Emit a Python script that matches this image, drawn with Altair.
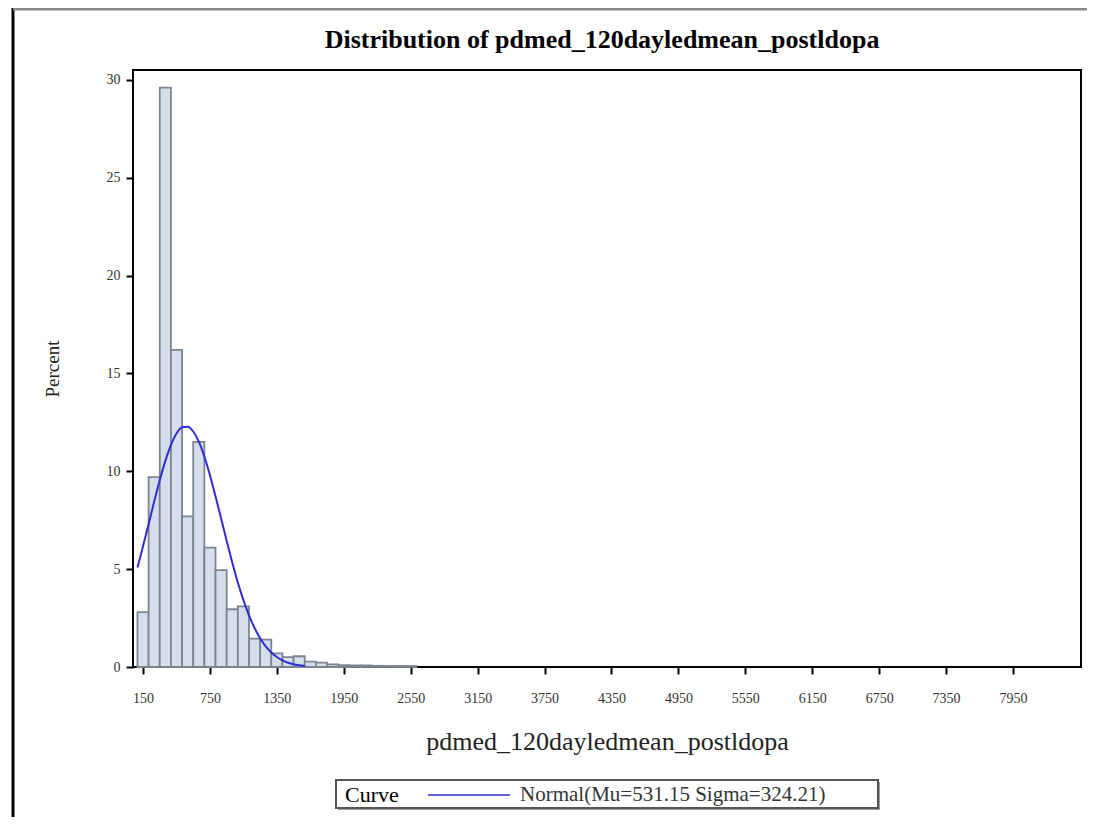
import altair as alt
import pandas as pd

# Histogram bins (midpoints, bin width 100) and percent heights
bin_mid = [150, 250, 350, 450, 550, 650, 750, 850, 950, 1050, 1150, 1250, 1350,
           1450, 1550, 1650, 1750, 1850, 1950, 2050, 2150, 2250, 2350, 2450, 2550]
bin_pct = [2.8, 9.7, 29.6, 16.2, 7.7, 11.5, 6.1, 4.95, 2.95, 3.1, 1.45, 1.4, 0.7,
           0.5, 0.55, 0.27, 0.22, 0.13, 0.1, 0.08, 0.08, 0.06, 0.05, 0.05, 0.05]

# Fitted normal curve (percent scale) read along x
curve_x = [100, 150, 200, 250, 300, 350, 400, 450, 500, 550, 600, 650, 700, 750, 800,
           850, 900, 950, 1000, 1050, 1100, 1150, 1200, 1250, 1300, 1350, 1400, 1450,
           1500, 1550, 1600]
curve_pct = [5.08, 6.17, 7.30, 8.45, 9.54, 10.53, 11.34, 11.93, 12.25, 12.28, 12.03,
             11.51, 10.75, 9.80, 8.72, 7.59, 6.44, 5.34, 4.32, 3.42, 2.64, 1.99, 1.47,
             1.05, 0.74, 0.51, 0.34, 0.22, 0.14, 0.09, 0.05]

x_ticks = [150, 750, 1350, 1950, 2550, 3150, 3750, 4350, 4950, 5550, 6150, 6750, 7350, 7950]
y_ticks = [0, 5, 10, 15, 20, 25, 30]
title_text = ["Distribution of pdmed_120dayledmean_postldopa"]
legend_title = ["Curve"]
curve_label = ["Normal(Mu=531.15 Sigma=324.21)"]

FONT = "Liberation Serif"
BLUE = "#2e2ed6"

bars_df = pd.DataFrame({"mid": bin_mid, "pct": bin_pct})
curve_df = pd.DataFrame({"x": curve_x, "pct": curve_pct})

xscale = alt.Scale(domain=[60, 8560], nice=False, zero=False)
yscale = alt.Scale(domain=[0, 30.5], nice=False)

xaxis = alt.Axis(values=x_ticks, format="d", title="pdmed_120dayledmean_postldopa",
                 labelFlush=False, labelPadding=17, titlePadding=23, titleFontSize=26,
                 labelFontSize=14)
yaxis = alt.Axis(values=y_ticks, format="d", title="Percent", labelPadding=6,
                 titlePadding=44, titleFontSize=19, labelFontSize=14)

bars = alt.Chart(bars_df).transform_calculate(
    lo="datum.mid - 50", hi="datum.mid + 50", base="0"
).mark_bar(fill="#d5deeb", stroke="#7d848f", strokeWidth=1.8).encode(
    x=alt.X("lo:Q", scale=xscale, axis=xaxis),
    x2="hi:Q",
    y=alt.Y("pct:Q", scale=yscale, axis=yaxis),
    y2="base:Q",
)

curve = alt.Chart(curve_df).mark_line(strokeWidth=2, interpolate="monotone", color=BLUE).encode(
    x=alt.X("x:Q", scale=xscale),
    y=alt.Y("pct:Q", scale=yscale),
)

one = pd.DataFrame({"k": [0]})

# outer page frame
left_border = alt.Chart(one).mark_rule(color="black", strokeWidth=3).encode(
    x=alt.value(-120), y=alt.value(-62), y2=alt.value(747))
top_border = alt.Chart(one).mark_rule(color="#8a8a8a", strokeWidth=3).encode(
    x=alt.value(-120), x2=alt.value(954), y=alt.value(-61))

# chart title
title = alt.Chart(pd.DataFrame({"t": title_text})).mark_text(
    font=FONT, fontSize=26, fontWeight="bold", color="black", align="center", baseline="middle"
).encode(text="t:N", x=alt.value(469), y=alt.value(-30))

# legend box (with a thin shadow on the right/bottom)
leg_shadow = alt.Chart(one).mark_rect(fill="#9a9a9a").encode(
    x=alt.value(205), x2=alt.value(747), y=alt.value(712), y2=alt.value(740))
leg_box = alt.Chart(one).mark_rect(fill="white", stroke="#555", strokeWidth=2).encode(
    x=alt.value(203), x2=alt.value(745), y=alt.value(710), y2=alt.value(738))
leg_title = alt.Chart(pd.DataFrame({"t": legend_title})).mark_text(
    font=FONT, fontSize=22, color="black", align="left", baseline="middle"
).encode(text="t:N", x=alt.value(212), y=alt.value(725))
leg_line = alt.Chart(one).mark_rule(color=BLUE, strokeWidth=1.5).encode(
    x=alt.value(295), x2=alt.value(377), y=alt.value(725))
leg_label = alt.Chart(pd.DataFrame({"t": curve_label})).mark_text(
    font=FONT, fontSize=21, color="#333", align="left", baseline="middle"
).encode(text="t:N", x=alt.value(387), y=alt.value(725))

chart = alt.layer(bars, curve, left_border, top_border, title,
                  leg_shadow, leg_box, leg_title, leg_line, leg_label).properties(
    width=948, height=597,
    autosize=alt.AutoSizeParams(type="none"),
    padding={"left": 125, "top": 62, "right": 6, "bottom": 150},
).configure_view(stroke="black", strokeWidth=2).configure_axis(
    domain=False, grid=False, tickColor="black", tickWidth=2, tickSize=7,
    labelFont=FONT, labelColor="#333", titleFont=FONT, titleColor="#222",
    titleFontWeight="normal",
)

chart.save("out.html", embed_options={"renderer": "svg", "actions": False})
